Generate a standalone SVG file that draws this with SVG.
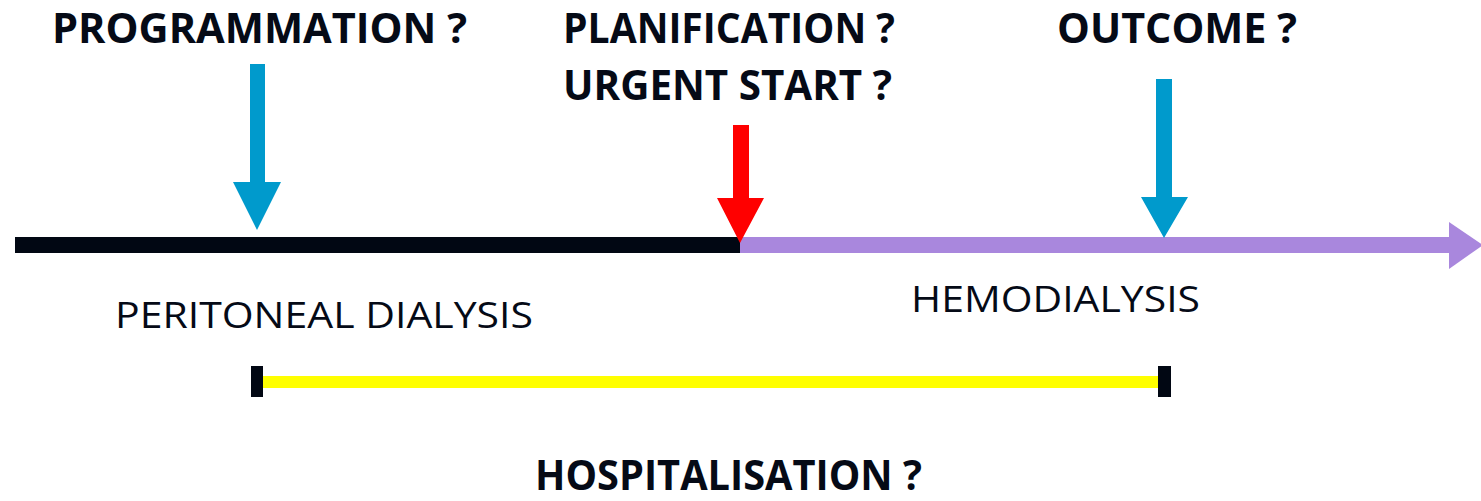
<svg xmlns="http://www.w3.org/2000/svg" width="1481" height="501" viewBox="0 0 1481 501">
<style>
.b{font-family:"Open Sans","Liberation Sans",sans-serif;font-weight:700;font-size:42px;fill:#050a16}
.r{font-family:"Open Sans","Liberation Sans",sans-serif;font-weight:400;font-size:37px;fill:#050a16}
.blue{fill:#009ACC}
.red{fill:#FF0000}
</style>
<rect width="1481" height="501" fill="#ffffff"/>
<g id="connectors">
<rect x="15" y="237" width="725" height="16" fill="#010713"/>
<rect x="740" y="237" width="712" height="16" fill="#A987DD"/>
<polygon points="1449,222 1483,245 1449,269" fill="#A987DD"/>
</g>
<g id="arrow-programmation">
<polygon class="blue" points="250,64 265,64 265,182 281,182 257,230 233,182 250,182"/>
</g>
<g id="arrow-urgent">
<polygon class="red" points="733,125 749,125 749,198 764,198 740,243 717,198 733,198"/>
</g>
<g id="arrow-outcome">
<polygon class="blue" points="1156,79 1172,79 1172,197 1188,197 1164,238 1141,197 1156,197"/>
</g>
<g id="hospitalisation-bar">
<rect x="263" y="376" width="895" height="12" fill="#FFFF00"/>
<rect x="251" y="366" width="12" height="31" fill="#010713"/>
<rect x="1158" y="366" width="13" height="31" fill="#010713"/>
</g>
<g id="labels">
<text class="b" x="52" y="43" textLength="415" lengthAdjust="spacingAndGlyphs">PROGRAMMATION ?</text>
<text class="b" x="563" y="43" textLength="332" lengthAdjust="spacingAndGlyphs">PLANIFICATION ?</text>
<text class="b" x="563" y="100" textLength="329" lengthAdjust="spacingAndGlyphs">URGENT START ?</text>
<text class="b" x="1057" y="43" textLength="240" lengthAdjust="spacingAndGlyphs">OUTCOME ?</text>
<text class="r" x="115" y="328" textLength="418" lengthAdjust="spacingAndGlyphs">PERITONEAL DIALYSIS</text>
<text class="r" x="911" y="312" textLength="289" lengthAdjust="spacingAndGlyphs">HEMODIALYSIS</text>
<text class="b" x="535" y="490" textLength="387" lengthAdjust="spacingAndGlyphs">HOSPITALISATION ?</text>
</g>
</svg>
